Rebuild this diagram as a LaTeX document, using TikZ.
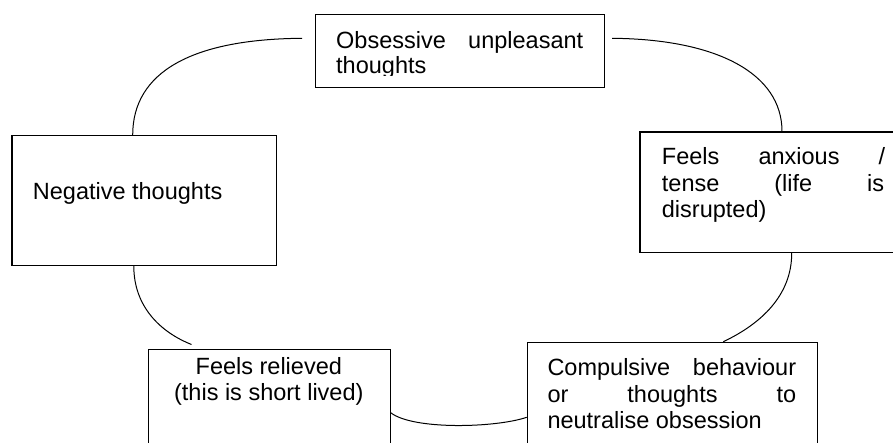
\documentclass[tikz,border=0pt]{standalone}
\usepackage{fontspec}
\setmainfont{Liberation Sans}
\begin{document}
\begin{tikzpicture}[x=1pt,y=-1pt,
  cbox/.style={draw=black,line width=1.2pt,rectangle,inner sep=0pt,anchor=north west,fill=white},
  conn/.style={draw=black,line width=1pt},
  txt/.style={inner sep=0pt,font=\fontsize{23.5}{26.5}\selectfont,text=black}]
\useasboundingbox (0,0) rectangle (893,443);
\clip (0,0) rectangle (893,443);
\fill[white] (0,0) rectangle (893,443);
% boxes
\node[cbox,minimum width=289pt,minimum height=73pt] (top) at (315,14.3) {};
\node[cbox,minimum width=264.6pt,minimum height=130pt] (neg) at (11.4,135) {};
\node[cbox,minimum width=300pt,minimum height=120.5pt] (anx) at (639.3,131.5) {};
\node[cbox,minimum width=290pt,minimum height=150pt] (comp) at (526.7,341.7) {};
\node[cbox,minimum width=241.5pt,minimum height=150pt] (rel) at (148,349) {};
% free ends
\coordinate (s1) at (302,38.3);
\coordinate (s2) at (612,38.3);
\coordinate (e5) at (191.5,344.5);
% connectors
\draw[conn] (s1) .. controls +(-110,0.8) and +(0,-63) .. ([xshift=121.3pt]neg.north west);
\draw[conn] (s2) .. controls +(105,0.8) and +(0,-58) .. ([xshift=142.7pt]anx.north west);
\draw[conn] ([xshift=152.4pt]anx.south west) .. controls +(0,42) and +(38,-18) .. ([xshift=196.6pt]comp.north west);
\draw[conn] ([yshift=-75.6pt]comp.north west) .. controls +(-31.7,10.7) and +(22,17.3) .. ([yshift=-63.7pt]rel.north east);
\draw[conn] ([xshift=122.4pt]neg.south west) .. controls +(0,40) and +(-31.5,-12.5) .. (e5);
% texts
\node[txt,anchor=base west] (ta) at (336,48.3) {\makebox[247pt][s]{Obsessive unpleasant}};
\begin{scope}
\clip (315,14.3) rectangle (604,76);
\node[txt,anchor=base west] (tb) at (336,74) {thoughts};
\end{scope}
\node[txt,anchor=base west] (na) at (32.7,200) {Negative thoughts};
\node[txt,anchor=base west] (aa) at (661.7,165) {\makebox[223.3pt][s]{Feels anxious /}};
\node[txt,anchor=base west] (ab) at (661.7,191.5) {\makebox[222.3pt][s]{tense (life is}};
\node[txt,anchor=base west] (ac) at (661.7,218) {disrupted)};
\node[txt,anchor=base west] (ca) at (547.3,375.7) {\makebox[248.7pt][s]{Compulsive behaviour}};
\node[txt,anchor=base west] (cb) at (547.3,402.3) {\makebox[248.7pt][s]{or thoughts to}};
\node[txt,anchor=base west] (cc) at (547.3,428.3) {neutralise obsession};
\node[txt,anchor=base] (ra) at (268.8,374) {Feels relieved};
\node[txt,anchor=base] (rb) at (268.8,400) {(this is short lived)};
\end{tikzpicture}
\end{document}
